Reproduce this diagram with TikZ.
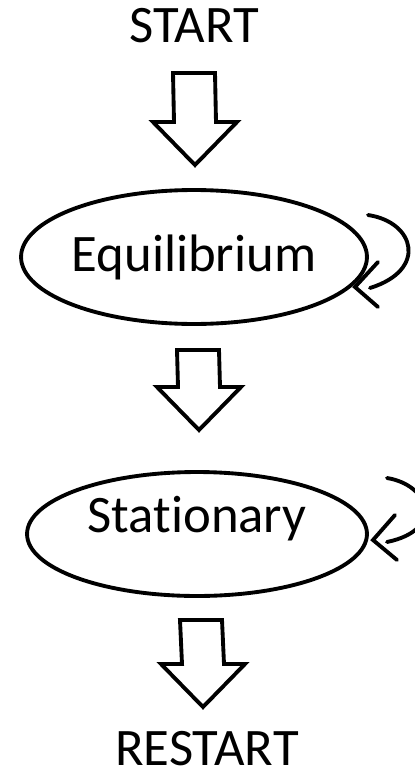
\documentclass[tikz,border=0pt]{standalone}
\usepackage{fontspec}
\setmainfont{Carlito}[Ligatures=NoCommon]
\usepackage{tikz}
\usetikzlibrary{calc,shapes.geometric}

\tikzset{
  lbl/.style={font=\fontsize{30}{36}\selectfont, inner sep=0pt},
  state/.style={ellipse, draw, line width=2.2pt, lbl},
  fatarrow/.style={draw, line width=2.2pt, line join=miter, fill=white,
    to path={($(\tikztostart)+(-21,0)$) -- ($(\tikztostart)+(21,0)$)
      -- ($(\tikztotarget)+(21,-43)$) -- ($(\tikztotarget)+(42,-43)$)
      -- (\tikztotarget) -- ($(\tikztotarget)+(-42,-43)$)
      -- ($(\tikztotarget)+(-21,-43)$) -- cycle}},
  loop/.style={line width=2.2pt, line cap=round, line join=miter}
}

\begin{document}
\begin{tikzpicture}[x=0.02cm,y=-0.02cm]
\useasboundingbox (0,0) rectangle (414,777);
\node[lbl,anchor=base] (start) at (194,43) {START};
\node[state,minimum width=6.16cm,minimum height=2.68cm] (equi) at (194,257) {Equilibrium};
\node[state,minimum width=6.8cm,minimum height=2.48cm,text depth=0.8cm] (stat) at (197,534) {Stationary};
\node[lbl,anchor=base] (restart) at (207,765) {RESTART};

% block arrows
\coordinate (s1) at (194,73);  \coordinate (t1) at (195,165);
\coordinate (s2) at (198,350); \coordinate (t2) at (199,430);
\coordinate (s3) at (201,620); \coordinate (t3) at (203,707);
\draw[fatarrow] (s1) to (t1);
\draw[fatarrow] (s2) to (t2);
\draw[fatarrow] (s3) to (t3);

% self loops
\draw[loop] ($(equi)+(174,-42)$) .. controls ($(equi)+(221,-35)$) and ($(equi)+(234,13)$) .. ($(equi)+(176,31)$);
\draw[loop] ($(equi)+(184,5)$) -- ($(equi)+(161,30)$) -- ($(equi)+(184,50)$);
\draw[loop] ($(stat)+(190,-56)$) .. controls ($(stat)+(233,-49)$) and ($(stat)+(248,-4)$) .. ($(stat)+(190,8)$);
\draw[loop] ($(stat)+(198,-19)$) -- ($(stat)+(176,6)$) -- ($(stat)+(200,26)$);
\end{tikzpicture}
\end{document}
